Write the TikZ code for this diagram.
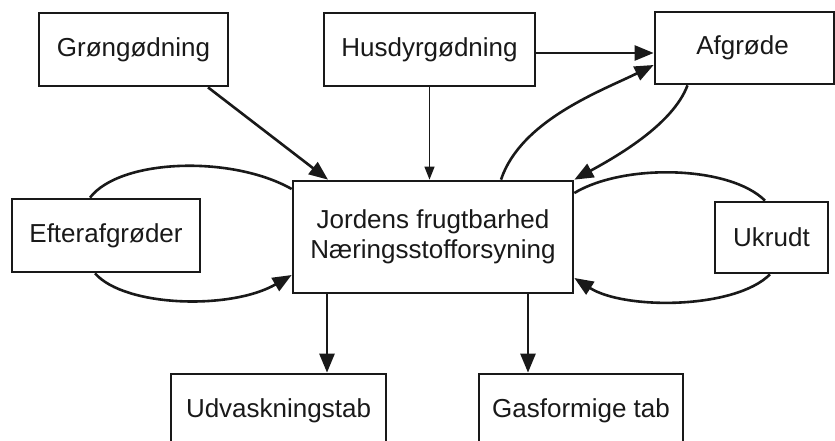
\documentclass[tikz,border=0pt]{standalone}
\usepackage{fontspec}
\setmainfont{Liberation Sans}
\usetikzlibrary{arrows.meta,calc}
\begin{document}
\begin{tikzpicture}[x=1pt,y=-1pt,
  box/.style={draw=black!90, line width=2.7pt, fill=white, inner sep=0pt,
    font=\fontsize{26}{30}\selectfont, text=black!90},
  conn/.style={line width=2.6pt, draw=black!90},
  arr/.style={conn, -{Triangle[length=19pt,width=15pt]}},
  thinarr/.style={line width=1.2pt, draw=black!90, -{Triangle[length=13pt,width=10pt]}}]
\fill[white] (0,0) rectangle (835,441);
\useasboundingbox (0,0) rectangle (835,441);

% boxes
\node[box, minimum width=189pt, minimum height=73pt] (gron) at (133.5,49.5) {Grøngødning};
\node[box, minimum width=211pt, minimum height=73pt] (husdyr) at (429.5,49.5) {Husdyrgødning};
\node[box, minimum width=179pt, minimum height=72pt] (afgr) at (744.5,48) {\hspace*{-4pt}Afgrøde};
\node[box, minimum width=280pt, minimum height=112pt, align=center] (jord) at (433,237) {Jordens frugtbarhed\\Næringsstofforsyning};
\node[box, minimum width=188pt, minimum height=73pt] (efter) at (106,235.5) {Efterafgrøder};
\node[box, minimum width=113pt, minimum height=71pt] (ukrudt) at (771.5,237.5) {Ukrudt};
\node[box, minimum width=215pt, minimum height=73pt] (udv) at (278.5,410.5) {Udvaskningstab};
\node[box, minimum width=204pt, minimum height=73pt] (gas) at (581,410.5) {Gasformige tab};

% straight arrows
\draw[arr] ([xshift=74.5pt]gron.south) -- ([xshift=-105pt]jord.north);
\draw[thinarr] (husdyr.south) -- (husdyr.south |- jord.north);
\draw[arr] ([yshift=-3.5pt]husdyr.east) -- ([yshift=-3.5pt]husdyr.east -| afgr.west);
\draw[arr] ([xshift=-106pt]jord.south) -- ([xshift=-106pt]jord.south |- udv.north);
\draw[arr] ([xshift=95pt]jord.south) -- ([xshift=95pt]jord.south |- gas.north);

% curved arrows between Jordens and Afgrøde
\draw[arr] ([xshift=68pt]jord.north) .. controls +(20,-60) and +(-50,25) .. ([yshift=-17pt]afgr.west);
\draw[arr] ([xshift=-57pt]afgr.south) .. controls +(-15,40) and +(40,-22) .. (jord.north east);

% left loop
\draw[conn] ([xshift=-16pt]efter.north) .. controls +(30,-39) and +(-60,-34) .. ([yshift=48pt]jord.west);
\draw[arr] ([xshift=-11pt]efter.south) .. controls +(30,34) and +(-60,35) .. ([yshift=-38pt]jord.west);

% right loop
\draw[conn] ([yshift=44pt]jord.east) .. controls +(50,-30) and +(-35,-35) .. ([xshift=-6.5pt]ukrudt.north);
\draw[arr] ([xshift=-1.5pt]ukrudt.south) .. controls +(-35,35) and +(50,32) .. ([yshift=-41pt]jord.east);
\end{tikzpicture}
\end{document}
